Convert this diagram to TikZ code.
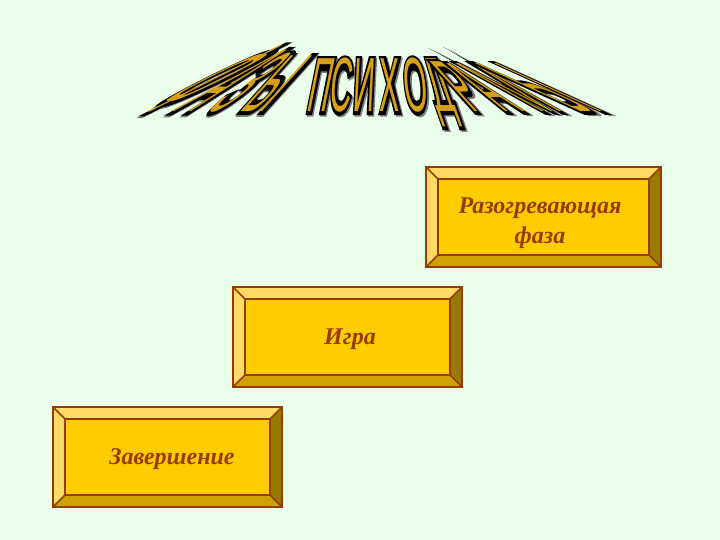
\documentclass[tikz,border=0pt]{standalone}
\usepackage{fontspec}
\setmainfont{Liberation Serif}
\newfontfamily\titlefont{Liberation Sans}[BoldFeatures={FakeBold=8}]
\usepackage{tikz}
\definecolor{fon}{RGB}{234,255,234}
\definecolor{kant}{RGB}{150,60,0}
\definecolor{lico}{RGB}{255,204,0}
\definecolor{svet}{RGB}{255,218,100}
\definecolor{ten}{RGB}{204,163,0}
\definecolor{temn}{RGB}{153,122,0}
\definecolor{zoloto}{RGB}{215,160,20}
\tikzstyle{faza}=[inner sep=0pt,align=center,text=kant,font=\fontsize{24}{30}\selectfont\bfseries\itshape]
\tikzstyle{bukva}=[inner sep=0pt,anchor=base,transform shape,font=\fontsize{30}{30}\selectfont\titlefont]

\begin{document}
\begin{tikzpicture}[x=1pt,y=-1pt]
    \fill [fon] (0,0) rectangle (720,540);
    % title
    \foreach \b/\x/\s/\h [count=\i] in {Ф/150/2.0/68, А/182/1.7/64, З/214/1.3/60, Ы/252/0.9/58,
        П/316/0.2/55, С/339/0.1/55, И/363/0.05/55, Х/390/0/55, О/418/-0.1/55, Д/448/-0.35/55,
        Р/482/-0.9/52, А/515/-1.4/50, М/552/-1.8/50, Ы/592/-2.2/50} {
      \begin{scope}[shift={(\x,112)},xslant=\s,yscale=\h/21.5]
        \node [bukva,text=gray] (ten\i) at (1.5,0.6) {\bfseries\b};
        \node [bukva,text=black] (kant\i) at (0,0) {\bfseries\b};
        \node [bukva,text=zoloto] (bukva\i) at (0,0) {\b};
      \end{scope}
    }
    % boxes
    \foreach \xa/\ya/\xb/\yb in {426/167/661/267, 233/287/462/387, 53/407/282/507} {
      \fill [svet] (\xa,\ya) -- (\xb,\ya) -- (\xb-12,\ya+12) -- (\xa+12,\ya+12) -- (\xa+12,\yb-12) -- (\xa,\yb) -- cycle;
      \fill [temn] (\xb,\ya) -- (\xb,\yb) -- (\xb-12,\yb-12) -- (\xb-12,\ya+12) -- cycle;
      \fill [ten] (\xa,\yb) -- (\xb,\yb) -- (\xb-12,\yb-12) -- (\xa+12,\yb-12) -- cycle;
      \fill [lico] (\xa+12,\ya+12) rectangle (\xb-12,\yb-12);
      \draw [kant,line width=1.6pt] (\xa,\ya) rectangle (\xb,\yb) (\xa+12,\ya+12) rectangle (\xb-12,\yb-12)
        (\xa,\ya) -- (\xa+12,\ya+12) (\xb,\ya) -- (\xb-12,\ya+12) (\xa,\yb) -- (\xa+12,\yb-12) (\xb,\yb) -- (\xb-12,\yb-12);
    }
    \node [faza] (razogrev) at (540,223) {Разогревающая\\фаза};
    \node [faza] (igra) at (350,339) {Игра};
    \node [faza] (zaversh) at (172,459) {Завершение};
\end{tikzpicture}
\end{document}
